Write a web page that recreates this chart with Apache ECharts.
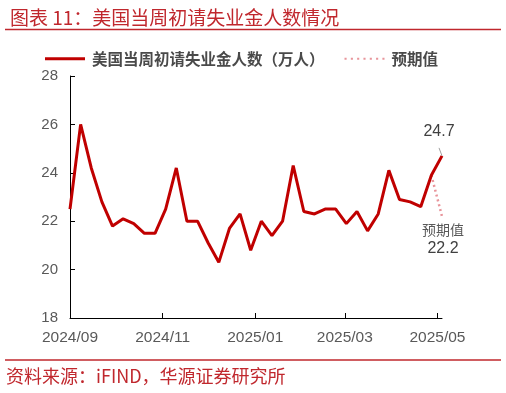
<!DOCTYPE html>
<html><head><meta charset="utf-8">
<script src="https://cdn.jsdelivr.net/npm/echarts@6/dist/echarts.min.js"></script>
<style>html,body{margin:0;padding:0;background:#fff;}#c{width:506px;height:393px;}</style>
</head><body><div id="c"></div>
<script>
const dates = ['2024-09-01','2024-09-08','2024-09-15','2024-09-22','2024-09-29','2024-10-06','2024-10-13','2024-10-20','2024-10-27','2024-11-03','2024-11-10','2024-11-17','2024-11-24','2024-12-01','2024-12-08','2024-12-15','2024-12-22','2024-12-29','2025-01-05','2025-01-12','2025-01-19','2025-01-26','2025-02-02','2025-02-09','2025-02-16','2025-02-23','2025-03-02','2025-03-09','2025-03-16','2025-03-23','2025-03-30','2025-04-06','2025-04-13','2025-04-20','2025-04-27','2025-05-04'];
const claims = [22.5,26.0,24.2,22.8,21.8,22.1,21.9,21.5,21.5,22.5,24.2,22.0,22.0,21.1,20.3,21.7,22.3,20.8,22.0,21.4,22.0,24.3,22.4,22.3,22.5,22.5,21.9,22.4,21.6,22.3,24.1,22.9,22.8,22.6,23.9,24.7];
const expectDates = ['2025-04-27','2025-05-04'];
const expectVals = [23.9,22.2];
const xTicks = ['2024-09-01','2024-11-01','2025-01-01','2025-03-01','2025-05-01'];
const seriesName = '美国当周初请失业金人数（万人）';
const expectName = '预期值';

const ts = s => new Date(s + 'T00:00:00Z').getTime();
const fmt = v => { const d = new Date(v); return d.getUTCFullYear() + '/' + String(d.getUTCMonth()+1).padStart(2,'0'); };
const NUMF = 'Liberation Sans, Arial';
const CJK = 'Noto Sans CJK SC';

// dotted legend icon path
let dotPath = 'path://';
for (let i = 0; i < 7; i++) { const x = i * 6; dotPath += 'M' + x + ',0L' + (x+2) + ',0L' + (x+2) + ',2L' + x + ',2Z'; }

const chart = echarts.init(document.getElementById('c'), null, {renderer:'canvas'});
const mainData = dates.map((d,i)=>({value:[ts(d), claims[i]]}));
mainData[mainData.length-1] = {value:[ts(dates[dates.length-1]), claims[claims.length-1]],
  label:{show:true, position:'top', offset:[-3,-11], formatter:p=>p.value[1].toFixed(1), color:'#404040', fontSize:16, fontFamily:NUMF},
  labelLine:{show:true, lineStyle:{color:'#a0a0a0', width:1}}};
const expData = expectDates.map((d,i)=>({value:[ts(d), expectVals[i]]}));
expData[1] = {value:[ts(expectDates[1]), expectVals[1]],
  label:{show:true, position:'bottom', offset:[1,-1],
    formatter:p=>'{a|'+expectName+'}\n{b|'+p.value[1].toFixed(1)+'}',
    rich:{a:{color:'#595959', fontSize:14, fontFamily:CJK, lineHeight:19}, b:{color:'#404040', fontSize:16, fontFamily:NUMF, lineHeight:19}}}};

chart.setOption({
  animation:false,
  title:{text:'图表 11：美国当周初请失业金人数情况', left:5, top:3,
    textStyle:{color:'#c0272d', fontSize:19, fontWeight:'normal', fontFamily:CJK}},
  graphic:[
    {type:'line', shape:{x1:5,y1:29.5,x2:501,y2:29.5}, style:{stroke:'#c0272d', lineWidth:1.5}},
    {type:'line', shape:{x1:5,y1:360,x2:501,y2:360}, style:{stroke:'#c0272d', lineWidth:1.5}},
    {type:'text', left:6, top:367, style:{text:'资料来源：iFIND，华源证券研究所', fill:'#c0272d', font:'18px "Noto Sans CJK SC"'}}
  ],
  legend:{top:46, left:40, itemWidth:40, itemHeight:3, itemGap:20,
    textStyle:{color:'#4a4a4a', fontSize:15.5, fontWeight:'bold', fontFamily:CJK, padding:[0,0,0,2]},
    data:[{name:seriesName, icon:'rect', itemStyle:{color:'#c00000'}},{name:expectName, icon:dotPath, itemStyle:{color:'#e8959b'}}]},
  grid:{left:70, right:64, top:76, bottom:75},
  xAxis:{type:'value', min:ts(dates[0]), max:ts(dates[dates.length-1]),
    axisLine:{lineStyle:{color:'#000', width:1}},
    splitLine:{show:false},
    axisTick:{show:true, inside:true, length:5, customValues:xTicks.map(ts), lineStyle:{color:'#000'}},
    axisLabel:{customValues:xTicks.map(ts), formatter:fmt, color:'#595959', fontSize:15.5, fontFamily:NUMF, margin:12, showMinLabel:true, showMaxLabel:true}},
  yAxis:{type:'value', min:18, max:28, interval:2,
    axisLine:{show:true, lineStyle:{color:'#000', width:1}},
    axisTick:{show:true, inside:true, length:5, lineStyle:{color:'#000'}},
    splitLine:{show:false},
    axisLabel:{color:'#595959', fontSize:15, fontFamily:NUMF, margin:12}},
  series:[
    {name:seriesName, type:'line', data:mainData, symbol:'circle', symbolSize:0, showSymbol:true,
      lineStyle:{color:'#c00000', width:3}, itemStyle:{color:'#c00000'}, z:3},
    {name:expectName, type:'line', data:expData, symbol:'circle', symbolSize:0, showSymbol:true,
      lineStyle:{color:'#e8959b', width:2.5, type:[2,3]}, itemStyle:{color:'#e8959b'}, z:2}
  ]
});
</script></body></html>
